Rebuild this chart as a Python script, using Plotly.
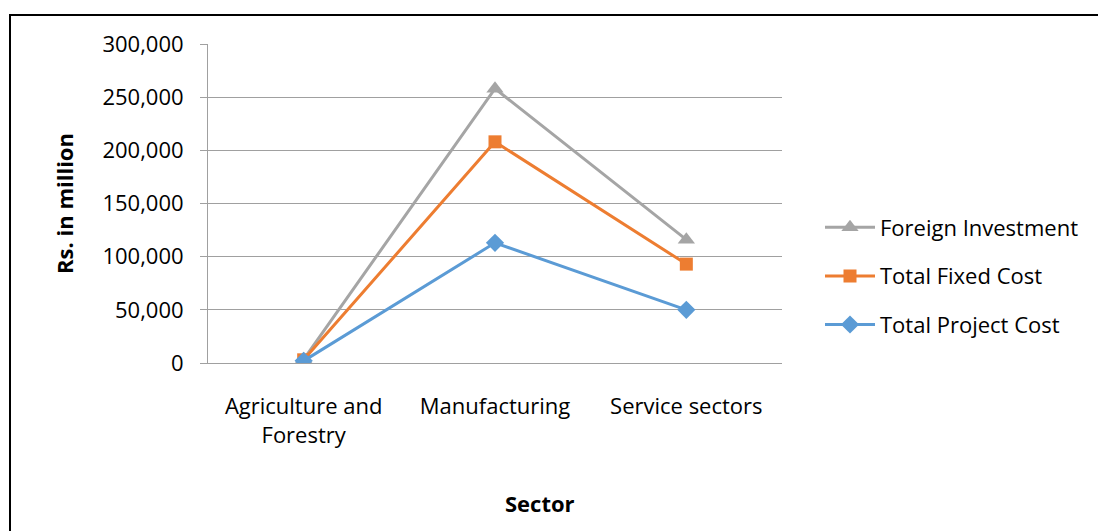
import plotly.graph_objects as go

categories = ["Agriculture and<br>Forestry", "Manufacturing", "Service sectors"]
foreign_investment = [3500, 258000, 116000]
total_fixed_cost = [3000, 208000, 93000]
total_project_cost = [2000, 113000, 50000]
y_ticks = [0, 50000, 100000, 150000, 200000, 250000, 300000]
y_tick_labels = ["0", "50,000", "100,000", "150,000", "200,000", "250,000", "300,000"]

OFF = 8  # page body margin
W, H = 1106 - OFF, 531 - OFF
L, R, T, B = 208 - OFF, 782 - OFF, 44 - OFF, 363 - OFF

def px(x):
    return (x - OFF - L) / (R - L)

def py(y):
    return (B - (y - OFF)) / (B - T)

FS = 22

fig = go.Figure()
fig.add_trace(go.Scatter(x=categories, y=foreign_investment, name="Foreign Investment",
                         legendgroup="a",
                         mode="lines+markers", line=dict(color="#A5A5A5", width=3),
                         marker=dict(symbol="triangle-up", size=15, color="#A5A5A5")))
fig.add_trace(go.Scatter(x=categories, y=total_fixed_cost, name="Total Fixed Cost",
                         legendgroup="b",
                         mode="lines+markers", line=dict(color="#ED7D31", width=3),
                         marker=dict(symbol="square", size=13, color="#ED7D31")))
fig.add_trace(go.Scatter(x=categories, y=total_project_cost, name="Total Project Cost",
                         legendgroup="c",
                         mode="lines+markers", line=dict(color="#5B9BD5", width=3),
                         marker=dict(symbol="diamond", size=14, color="#5B9BD5")))

fig.update_layout(
    width=W, height=H,
    margin=dict(l=L, r=W - R, t=T, b=H - B, pad=0),
    paper_bgcolor="white", plot_bgcolor="white",
    font=dict(family="Open Sans", size=FS, color="#000000"),
    showlegend=True,
    legend=dict(x=px(820), y=py(276), xanchor="left", yanchor="middle",
                font=dict(size=FS), itemwidth=50, tracegroupgap=17,
                traceorder="grouped",
                bgcolor="rgba(0,0,0,0)"),
    xaxis=dict(type="category", showgrid=False, showline=True, linecolor="#A0A0A0",
               linewidth=1, ticks="", tickfont=dict(size=FS),
               ticklabelstandoff=24,
               range=[-0.5, 2.5]),
    yaxis=dict(range=[0, 300000], tickvals=y_ticks, ticktext=y_tick_labels,
               showgrid=True, gridcolor="#A0A0A0", gridwidth=1,
               showline=True, linecolor="#A0A0A0", linewidth=1,
               ticks="outside", ticklen=7, tickcolor="#A0A0A0",
               ticklabelstandoff=12,
               tickfont=dict(size=FS), zeroline=False,
               title=dict(text="<b>Rs. in million</b>", font=dict(size=FS), standoff=22)),
    annotations=[dict(text="<b>Sector</b>", xref="paper", yref="paper",
                      x=px(540), y=py(503), xanchor="center", yanchor="middle",
                      showarrow=False, font=dict(size=FS))],
    shapes=[dict(type="rect", xref="paper", yref="paper",
                 x0=px(10), x1=px(1130), y0=py(580), y1=py(15),
                 line=dict(color="#000000", width=2), fillcolor="rgba(0,0,0,0)", layer="below")],
)

fig.write_html("out.html")
